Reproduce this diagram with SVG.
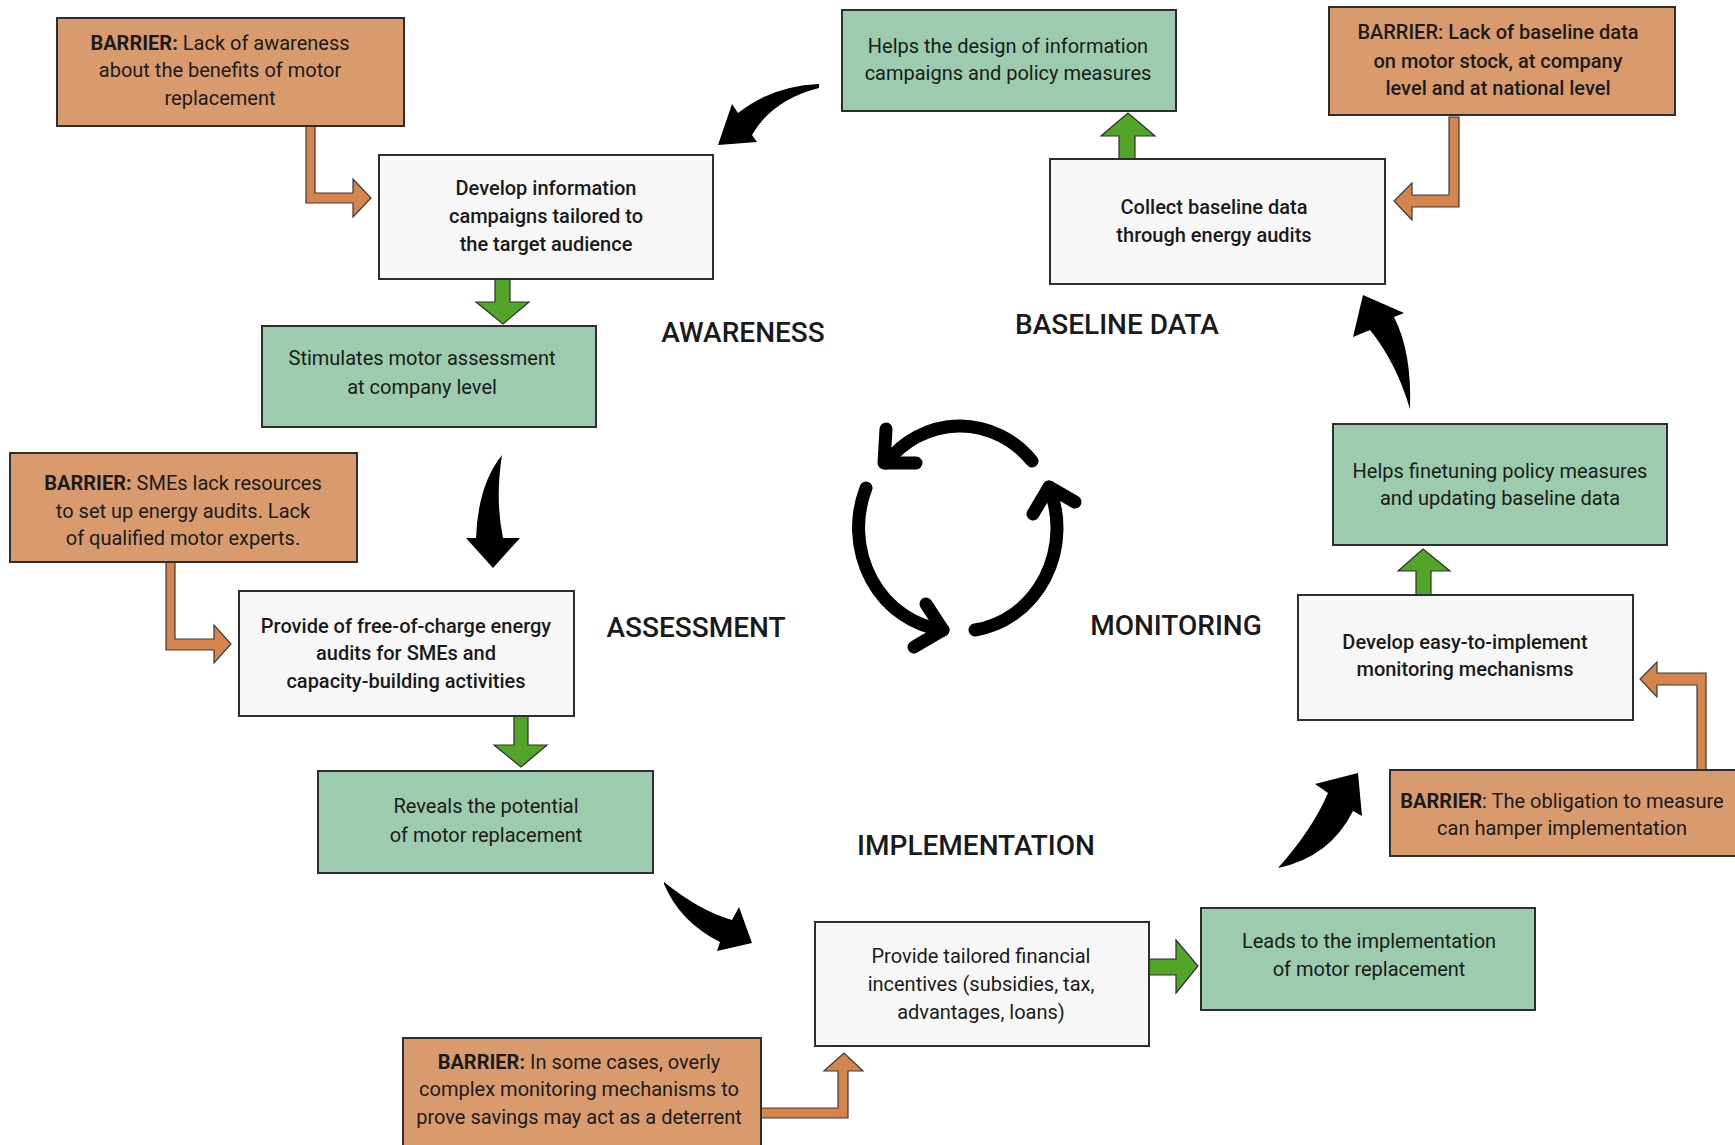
<svg xmlns="http://www.w3.org/2000/svg" width="1735" height="1145" viewBox="0 0 1735 1145">
<style>
.box{stroke:#2e2e2e;stroke-width:2}
.bar{fill:#D99B6D}
.grn{fill:#9DCBAF}
.wht{fill:#F7F7F7}
.oarr{fill:#D4844C;stroke:#3a3a3a;stroke-width:1.2;stroke-linejoin:miter}
.garr{fill:#52A529;stroke:#2e2e2e;stroke-width:1.2}
.barr{fill:#000}
.cyc{fill:none;stroke:#000;stroke-width:13;stroke-linecap:round;stroke-linejoin:round}
text{font-family:Roboto,"Liberation Sans",sans-serif;fill:#1a1a1a;text-anchor:middle}
.t{font-size:20px;font-weight:400}
.tm{font-size:20px;font-weight:500}
.b{font-weight:700}
.lab{font-size:28px;font-weight:500}
</style>
<rect width="1735" height="1145" fill="#fff"/>

<g id="connectors">
  <!-- orange barrier connectors -->
  <path class="oarr" d="M306,126 L315,126 L315,193 L353,193 L353,179 L371,198 L353,217 L353,203 L306,203 Z"/>
  <path class="oarr" d="M1449,117 L1459,117 L1459,207 L1412,207 L1412,220 L1394,201 L1412,183 L1412,195 L1449,195 Z"/>
  <path class="oarr" d="M166,562 L175,562 L175,639 L214,639 L214,625 L231,644 L214,663 L214,650 L166,650 Z"/>
  <path class="oarr" d="M1697,770 L1697,685 L1657,685 L1657,697 L1640,679 L1657,662 L1657,673 L1706,673 L1706,770 Z"/>
  <path class="oarr" d="M761,1108 L838,1108 L838,1071 L824,1071 L844,1053 L863,1071 L848,1071 L848,1118 L761,1118 Z"/>
  <!-- green result arrows -->
  <path class="garr" d="M495,279 L510,279 L510,302 L529,302 L503,324 L476,302 L495,302 Z"/>
  <path class="garr" d="M1119,159 L1119,136 L1101,136 L1128,113 L1155,136 L1135,136 L1135,159 Z"/>
  <path class="garr" d="M514,716 L528,716 L528,745 L547,745 L521,767 L494,745 L514,745 Z"/>
  <path class="garr" d="M1416,595 L1416,571 L1398,571 L1423,549 L1450,571 L1431,571 L1431,595 Z"/>
  <path class="garr" d="M1149,959 L1176,959 L1176,940 L1198,966 L1176,993 L1176,975 L1149,975 Z"/>
  <!-- black curved cycle arrows -->
  <path class="barr" d="M819,84 Q772,86 738,113 L732,104 L718,145 L757,142 L752,135 Q772,100 819,88 Z"/>
  <path class="barr" d="M502,455 Q495,500 503,538 L520,538 L493,568 L466,538 L476,538 Q478,485 502,455 Z"/>
  <path class="barr" d="M664,882 Q700,911 732,920 L739,907 L752,943 L717,951 L720,942 Q680,922 664,884 Z"/>
  <path class="barr" d="M1278,868 Q1312,830 1328,793 L1315,784 L1358,773 L1362,816 L1353,811 Q1330,857 1278,868 Z"/>
  <path class="barr" d="M1410,409 Q1412,352 1394,317 L1404,313 L1363,295 L1353,337 L1370,330 Q1396,362 1410,409 Z"/>
</g>

<g id="cycle-icon">
  <path class="cyc" d="M1032,461 A96,103 0 0 0 886,463"/>
  <path class="cyc" d="M886,429 L884,463 L916,463"/>
  <path class="cyc" d="M866,488 A96,103 0 0 0 943,630"/>
  <path class="cyc" d="M926,604 L943,630 L914,647"/>
  <path class="cyc" d="M975,630 A96,103 0 0 0 1049,487"/>
  <path class="cyc" d="M1033,514 L1049,487 L1075,502"/>
</g>

<g id="labels">
  <text class="lab" x="743" y="342">AWARENESS</text>
  <text class="lab" x="1117" y="334">BASELINE DATA</text>
  <text class="lab" x="696" y="637">ASSESSMENT</text>
  <text class="lab" x="1176" y="635">MONITORING</text>
  <text class="lab" x="976" y="855">IMPLEMENTATION</text>
</g>

<g id="barrier-awareness">
  <rect class="box bar" x="57" y="18" width="347" height="108"/>
  <text class="t" x="220" y="50"><tspan class="b">BARRIER:</tspan> Lack of awareness</text>
  <text class="t" x="220" y="77">about the benefits of motor</text>
  <text class="t" x="220" y="105">replacement</text>
</g>

<g id="develop-information">
  <rect class="box wht" x="379" y="155" width="334" height="124"/>
  <text class="tm" x="546" y="195">Develop information</text>
  <text class="tm" x="546" y="223">campaigns tailored to</text>
  <text class="tm" x="546" y="251">the target audience</text>
</g>

<g id="stimulates-assessment">
  <rect class="box grn" x="262" y="326" width="334" height="101"/>
  <text class="t" x="422" y="365">Stimulates motor assessment</text>
  <text class="t" x="422" y="394">at company level</text>
</g>

<g id="helps-design">
  <rect class="box grn" x="842" y="10" width="334" height="101"/>
  <text class="t" x="1008" y="53">Helps the design of information</text>
  <text class="t" x="1008" y="80">campaigns and policy measures</text>
</g>

<g id="collect-baseline">
  <rect class="box wht" x="1050" y="159" width="335" height="125"/>
  <text class="tm" x="1214" y="214">Collect baseline data</text>
  <text class="tm" x="1214" y="242">through energy audits</text>
</g>

<g id="barrier-baseline">
  <rect class="box bar" x="1329" y="7" width="346" height="108"/>
  <text class="tm" x="1498" y="39">BARRIER: Lack of baseline data</text>
  <text class="tm" x="1498" y="68">on motor stock, at company</text>
  <text class="tm" x="1498" y="95">level and at national level</text>
</g>

<g id="barrier-assessment">
  <rect class="box bar" x="10" y="453" width="347" height="109"/>
  <text class="t" x="183" y="490"><tspan class="b">BARRIER:</tspan> SMEs lack resources</text>
  <text class="t" x="183" y="518">to set up energy audits. Lack</text>
  <text class="t" x="183" y="545">of qualified motor experts.</text>
</g>

<g id="provide-audits">
  <rect class="box wht" x="239" y="591" width="335" height="125"/>
  <text class="tm" x="406" y="633">Provide of free-of-charge energy</text>
  <text class="tm" x="406" y="660">audits for SMEs and</text>
  <text class="tm" x="406" y="688">capacity-building activities</text>
</g>

<g id="reveals-potential">
  <rect class="box grn" x="318" y="771" width="335" height="102"/>
  <text class="t" x="486" y="813">Reveals the potential</text>
  <text class="t" x="486" y="842">of motor replacement</text>
</g>

<g id="helps-finetuning">
  <rect class="box grn" x="1333" y="424" width="334" height="121"/>
  <text class="t" x="1500" y="478">Helps finetuning policy measures</text>
  <text class="t" x="1500" y="505">and updating baseline data</text>
</g>

<g id="develop-monitoring">
  <rect class="box wht" x="1298" y="595" width="335" height="125"/>
  <text class="tm" x="1465" y="649">Develop easy-to-implement</text>
  <text class="tm" x="1465" y="676">monitoring mechanisms</text>
</g>

<g id="barrier-monitoring">
  <rect class="box bar" x="1390" y="770" width="350" height="86"/>
  <text class="t" x="1562" y="808"><tspan class="b">BARRIER</tspan>: The obligation to measure</text>
  <text class="t" x="1562" y="835">can hamper implementation</text>
</g>

<g id="financial-incentives">
  <rect class="box wht" x="815" y="922" width="334" height="124"/>
  <text class="t" x="981" y="963">Provide tailored financial</text>
  <text class="t" x="981" y="991">incentives (subsidies, tax,</text>
  <text class="t" x="981" y="1019">advantages, loans)</text>
</g>

<g id="leads-implementation">
  <rect class="box grn" x="1201" y="908" width="334" height="102"/>
  <text class="t" x="1369" y="948">Leads to the implementation</text>
  <text class="t" x="1369" y="976">of motor replacement</text>
</g>

<g id="barrier-implementation">
  <rect class="box bar" x="403" y="1038" width="358" height="110"/>
  <text class="t" x="579" y="1069"><tspan class="b">BARRIER:</tspan> In some cases, overly</text>
  <text class="t" x="579" y="1096">complex monitoring mechanisms to</text>
  <text class="t" x="579" y="1124">prove savings may act as a deterrent</text>
</g>
</svg>
